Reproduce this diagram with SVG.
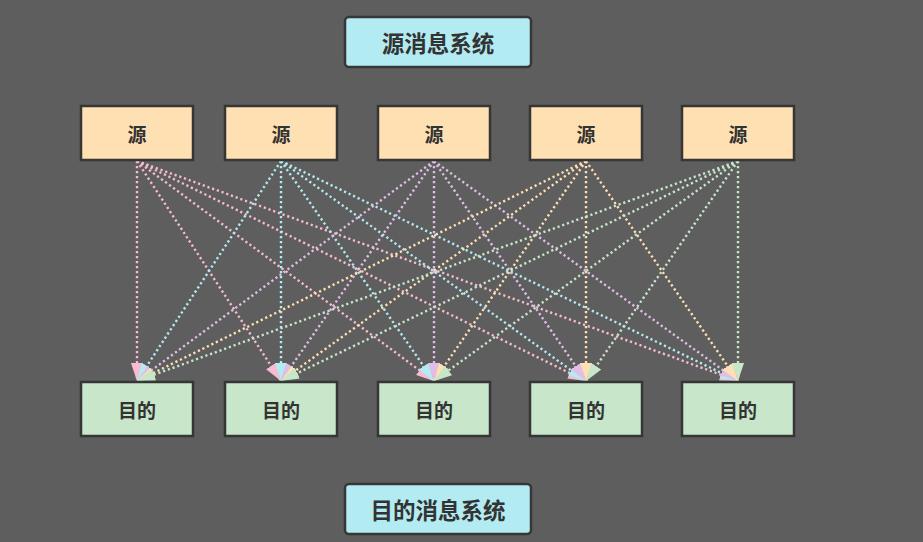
<svg xmlns="http://www.w3.org/2000/svg" width="923" height="542" viewBox="0 0 923 542">
<defs>
<style>
.bg{fill:#5e5e5e}
.box{stroke:#363636;stroke-width:2.5}
.src{fill:#ffe0b2}
.dst{fill:#c8e6c9}
.sys{fill:#b2ebf2}
text{font-family:"Noto Sans CJK SC","Noto Sans",sans-serif;font-weight:bold;fill:#333;text-anchor:middle;dominant-baseline:central}
.lbl{font-size:19px}
.ttl{font-size:22.5px}
.ln{fill:none;stroke-width:2.4;stroke-dasharray:2.2 2.8}
.c1{stroke:#f8bbd0}.c2{stroke:#b2ebf2}.c3{stroke:#e1bee7}.c4{stroke:#ffe0b2}.c5{stroke:#c8e6c9}
</style>
<marker id="a1" markerUnits="userSpaceOnUse" markerWidth="18" markerHeight="12" refX="18" refY="6" orient="auto"><path d="M0,0L18,6L0,12z" fill="#f8bbd0"/></marker>
<marker id="a2" markerUnits="userSpaceOnUse" markerWidth="18" markerHeight="12" refX="18" refY="6" orient="auto"><path d="M0,0L18,6L0,12z" fill="#b2ebf2"/></marker>
<marker id="a3" markerUnits="userSpaceOnUse" markerWidth="18" markerHeight="12" refX="18" refY="6" orient="auto"><path d="M0,0L18,6L0,12z" fill="#e1bee7"/></marker>
<marker id="a4" markerUnits="userSpaceOnUse" markerWidth="18" markerHeight="12" refX="18" refY="6" orient="auto"><path d="M0,0L18,6L0,12z" fill="#ffe0b2"/></marker>
<marker id="a5" markerUnits="userSpaceOnUse" markerWidth="18" markerHeight="12" refX="18" refY="6" orient="auto"><path d="M0,0L18,6L0,12z" fill="#c8e6c9"/></marker>
</defs>
<rect class="bg" x="0" y="0" width="923" height="542"/>
<g id="connectors">
<g class="ln c1" marker-end="url(#a1)">
<line x1="137" y1="161" x2="137" y2="381"/>
<line x1="137" y1="161" x2="281" y2="381"/>
<line x1="137" y1="161" x2="434" y2="381"/>
<line x1="137" y1="161" x2="586" y2="381"/>
<line x1="137" y1="161" x2="738" y2="381"/>
</g>
<g class="ln c2" marker-end="url(#a2)">
<line x1="281" y1="161" x2="137" y2="381"/>
<line x1="281" y1="161" x2="281" y2="381"/>
<line x1="281" y1="161" x2="434" y2="381"/>
<line x1="281" y1="161" x2="586" y2="381"/>
<line x1="281" y1="161" x2="738" y2="381"/>
</g>
<g class="ln c3" marker-end="url(#a3)">
<line x1="434" y1="161" x2="137" y2="381"/>
<line x1="434" y1="161" x2="281" y2="381"/>
<line x1="434" y1="161" x2="434" y2="381"/>
<line x1="434" y1="161" x2="586" y2="381"/>
<line x1="434" y1="161" x2="738" y2="381"/>
</g>
<g class="ln c4" marker-end="url(#a4)">
<line x1="586" y1="161" x2="137" y2="381"/>
<line x1="586" y1="161" x2="281" y2="381"/>
<line x1="586" y1="161" x2="434" y2="381"/>
<line x1="586" y1="161" x2="586" y2="381"/>
<line x1="586" y1="161" x2="738" y2="381"/>
</g>
<g class="ln c5" marker-end="url(#a5)">
<line x1="738" y1="161" x2="137" y2="381"/>
<line x1="738" y1="161" x2="281" y2="381"/>
<line x1="738" y1="161" x2="434" y2="381"/>
<line x1="738" y1="161" x2="586" y2="381"/>
<line x1="738" y1="161" x2="738" y2="381"/>
</g>
</g>
<g id="src-system"><rect class="box sys" x="345" y="17" width="186" height="50" rx="4"/><text class="ttl" x="438" y="42">源消息系统</text></g>
<g id="src1"><rect class="box src" x="81" y="106" width="112" height="54"/><text class="lbl" x="137" y="133">源</text></g>
<g id="src2"><rect class="box src" x="225" y="106" width="112" height="54"/><text class="lbl" x="281" y="133">源</text></g>
<g id="src3"><rect class="box src" x="378" y="106" width="112" height="54"/><text class="lbl" x="434" y="133">源</text></g>
<g id="src4"><rect class="box src" x="530" y="106" width="112" height="54"/><text class="lbl" x="586" y="133">源</text></g>
<g id="src5"><rect class="box src" x="682" y="106" width="112" height="54"/><text class="lbl" x="738" y="133">源</text></g>
<g id="dst1"><rect class="box dst" x="81" y="382" width="112" height="54"/><text class="lbl" x="137" y="409">目的</text></g>
<g id="dst2"><rect class="box dst" x="225" y="382" width="112" height="54"/><text class="lbl" x="281" y="409">目的</text></g>
<g id="dst3"><rect class="box dst" x="378" y="382" width="112" height="54"/><text class="lbl" x="434" y="409">目的</text></g>
<g id="dst4"><rect class="box dst" x="530" y="382" width="112" height="54"/><text class="lbl" x="586" y="409">目的</text></g>
<g id="dst5"><rect class="box dst" x="682" y="382" width="112" height="54"/><text class="lbl" x="738" y="409">目的</text></g>
<g id="dst-system"><rect class="box sys" x="345" y="484" width="186" height="50" rx="4"/><text class="ttl" x="438" y="509">目的消息系统</text></g>
</svg>
